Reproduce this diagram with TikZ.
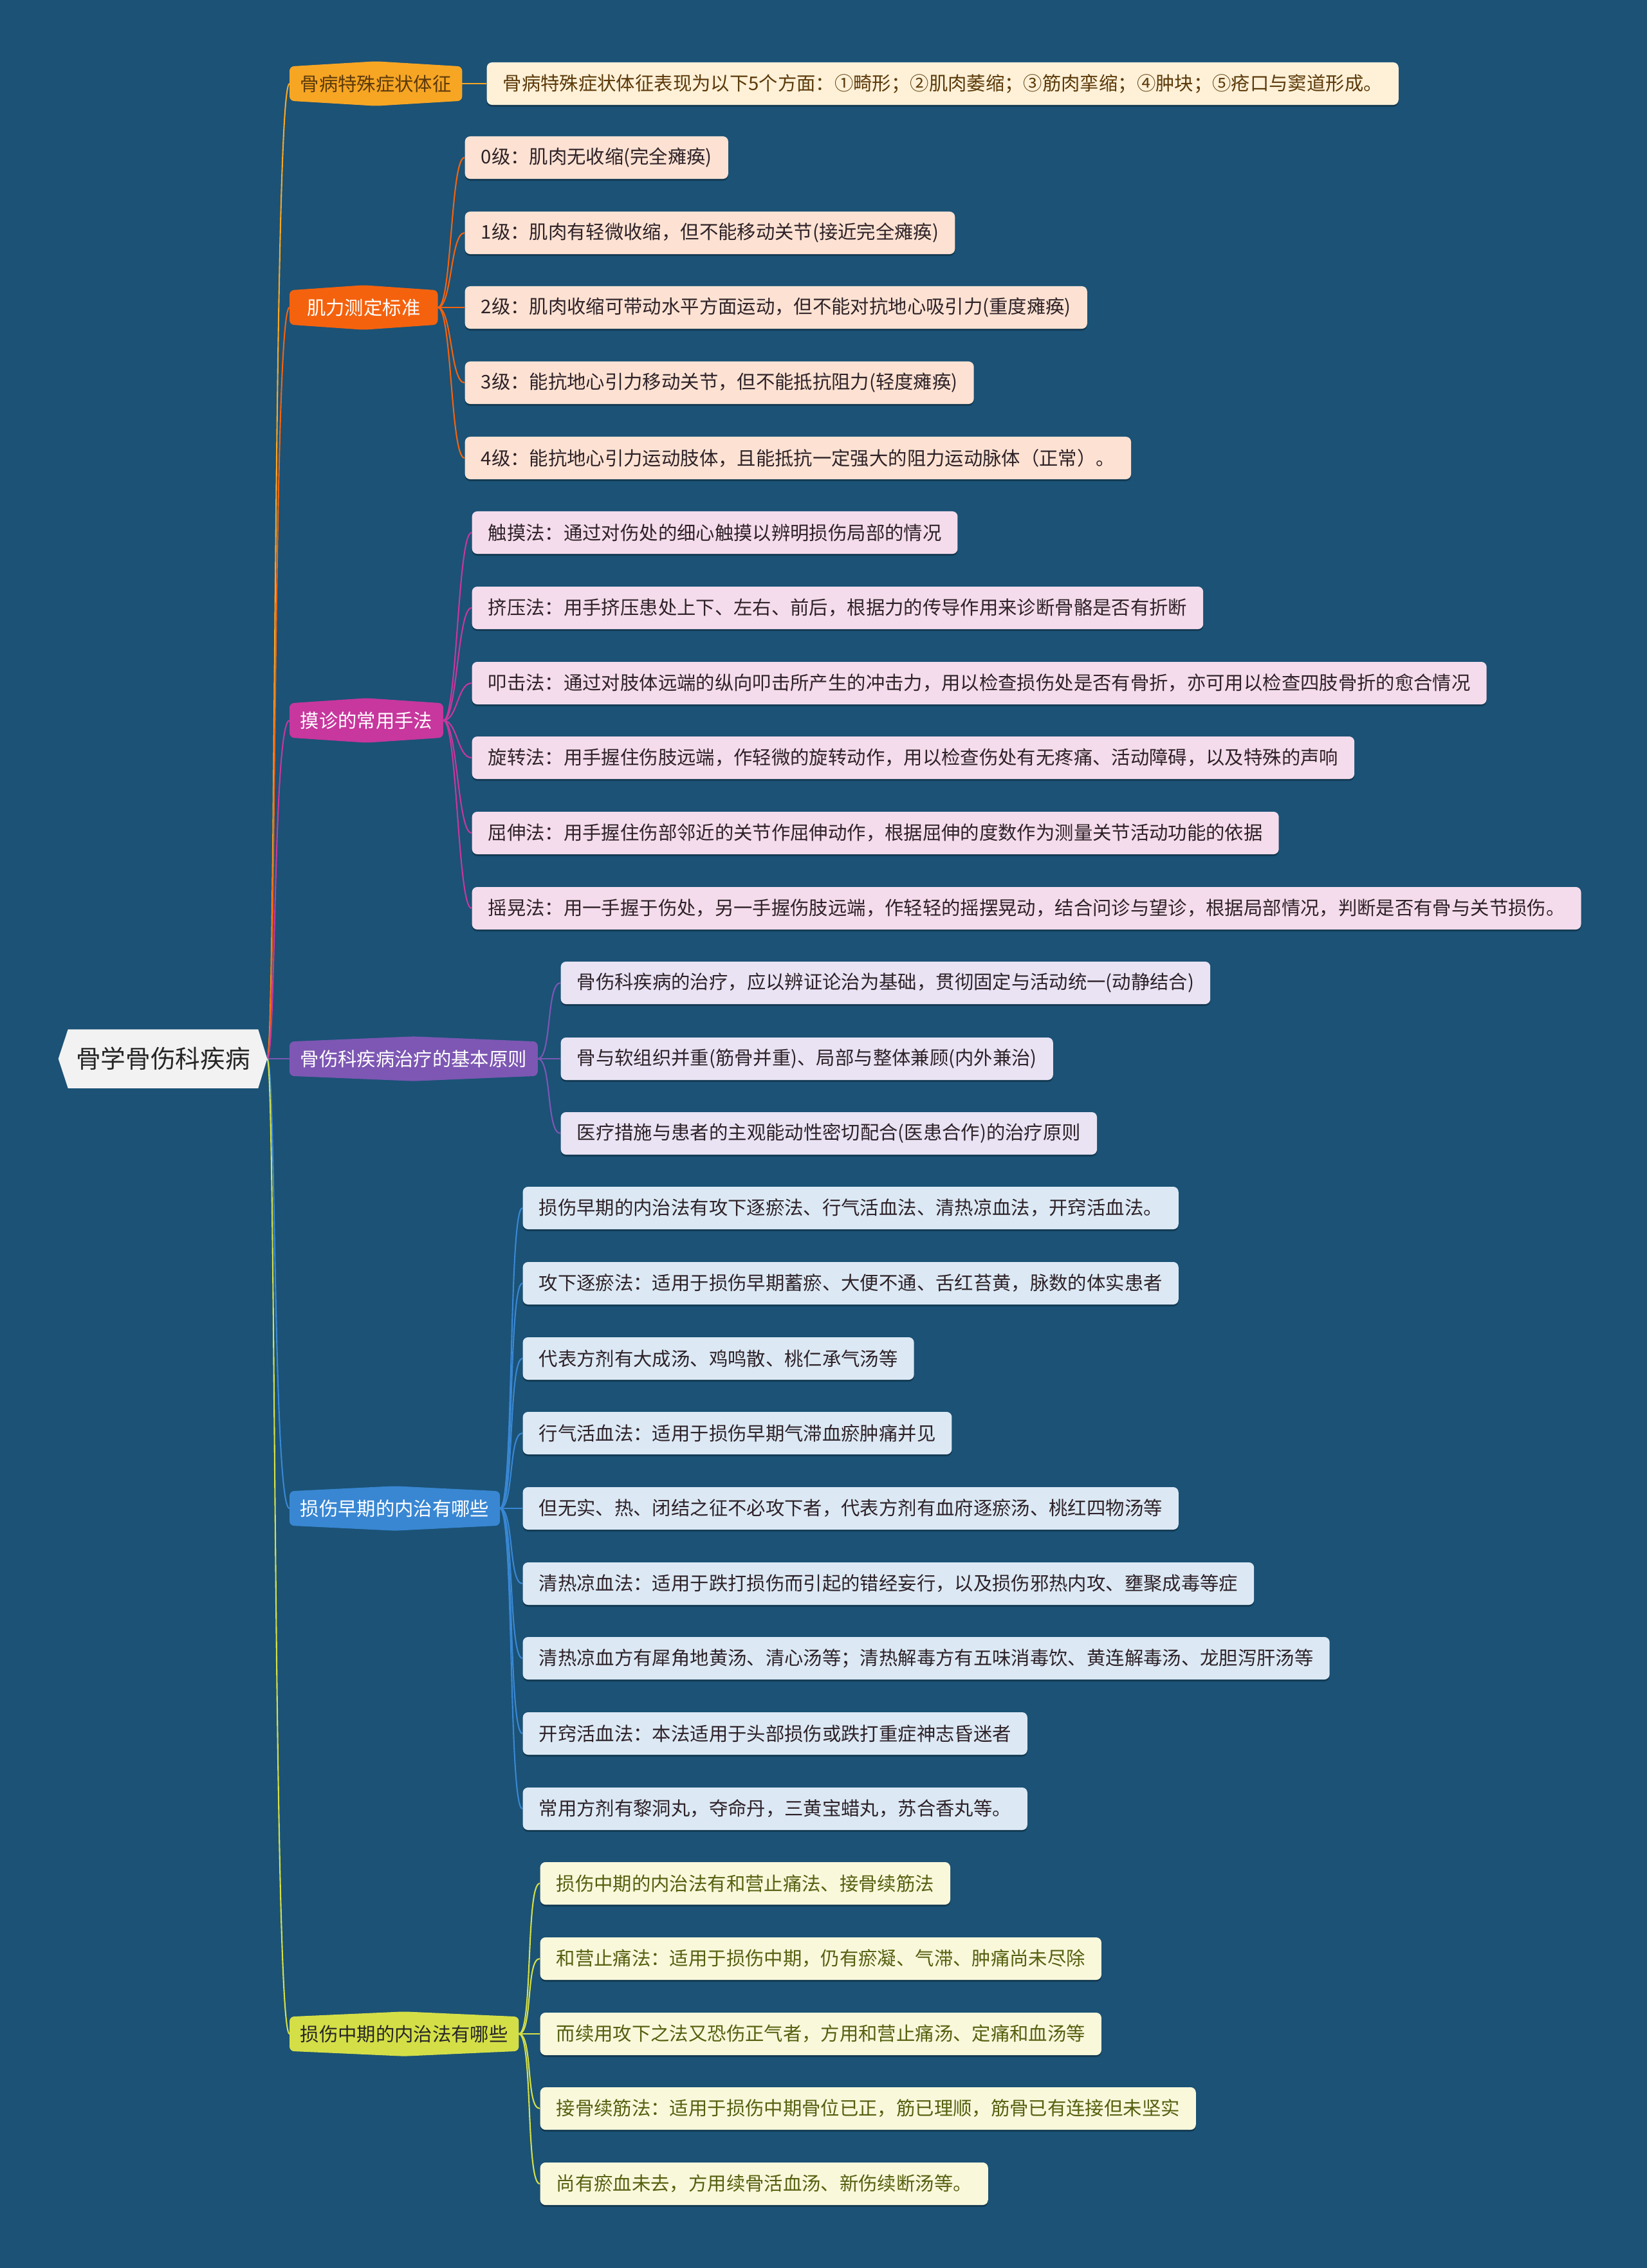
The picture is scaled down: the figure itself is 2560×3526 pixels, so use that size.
\documentclass[tikz,border=0pt]{standalone}
\usepackage{fontspec}
\setmainfont{Noto Sans CJK SC}
\usetikzlibrary{positioning,backgrounds,calc,shadows}

\definecolor{mapbg}{HTML}{1B5276}
\definecolor{rootfill}{HTML}{F2F2F2}
\definecolor{signfill}{HTML}{F7A624}
\definecolor{signleaf}{HTML}{FEF1D8}
\definecolor{forcefill}{HTML}{F4620E}
\definecolor{forceleaf}{HTML}{FDE2D3}
\definecolor{palpfill}{HTML}{C7379D}
\definecolor{palpleaf}{HTML}{F5DCEC}
\definecolor{rulefill}{HTML}{7D57B3}
\definecolor{ruleleaf}{HTML}{E9E3F4}
\definecolor{earlyfill}{HTML}{3987D3}
\definecolor{earlyleaf}{HTML}{DCE9F5}
\definecolor{midfill}{HTML}{D4DF47}
\definecolor{midleaf}{HTML}{FAF8DB}
\definecolor{browntext}{HTML}{5C3A0A}
\definecolor{olivetext}{HTML}{556010}
\definecolor{darktext}{HTML}{2E2228}

\begin{document}
\begin{tikzpicture}[x=0.01cm, y=-0.01cm,
  every node/.style={font=\fontsize{8.35}{10}\selectfont},
  leaf/.style={fill=#1, rounded corners=2.3pt, minimum height=0.66cm, inner xsep=0.25cm,
    anchor=west, text=darktext,
    drop shadow={shadow xshift=0pt, shadow yshift=-0.8pt, opacity=0.3, fill=black}},
  topic/.style={minimum height=0.52cm, inner xsep=0.16cm, anchor=west, text=white},
  link/.style={line width=0.6pt}]
  \useasboundingbox (0,0) rectangle (2560,3526);

  \node[minimum width=2.83cm, minimum height=0.9cm, text=black!85,
    font=\fontsize{11}{13}\selectfont] (root) at (253.5,1646) {骨学骨伤科疾病};
  \coordinate (hub) at ($(root.east)+(14,0)$);

  \node[topic, text=browntext] (sign) at (450,130) {骨病特殊症状体征};
  \node[topic, minimum width=2.29cm] (force) at (450,478) {肌力测定标准};
  \node[topic] (palp) at (450,1120) {摸诊的常用手法};
  \node[topic] (rule) at (450,1646) {骨伤科疾病治疗的基本原则};
  \node[topic] (early) at (450,2345) {损伤早期的内治有哪些};
  \node[topic, text=black!85] (mid) at (450,3162) {损伤中期的内治法有哪些};

  \node[leaf=signleaf, text=browntext] (sign0) at (756,130) {骨病特殊症状体征表现为以下5个方面：①畸形；②肌肉萎缩；③筋肉挛缩；④肿块；⑤疮口与窦道形成。};

  \node[leaf=forceleaf] (force0) at (722,245) {0级：肌肉无收缩(完全瘫痪)};
  \node[leaf=forceleaf] (force1) at (722,362) {1级：肌肉有轻微收缩，但不能移动关节(接近完全瘫痪)};
  \node[leaf=forceleaf] (force2) at (722,478) {2级：肌肉收缩可带动水平方面运动，但不能对抗地心吸引力(重度瘫痪)};
  \node[leaf=forceleaf] (force3) at (722,595) {3级：能抗地心引力移动关节，但不能抵抗阻力(轻度瘫痪)};
  \node[leaf=forceleaf] (force4) at (722,712) {4级：能抗地心引力运动肢体，且能抵抗一定强大的阻力运动脉体（正常）。};

  \node[leaf=palpleaf] (palp0) at (733,828) {触摸法：通过对伤处的细心触摸以辨明损伤局部的情况};
  \node[leaf=palpleaf] (palp1) at (733,945) {挤压法：用手挤压患处上下、左右、前后，根据力的传导作用来诊断骨骼是否有折断};
  \node[leaf=palpleaf] (palp2) at (733,1062) {叩击法：通过对肢体远端的纵向叩击所产生的冲击力，用以检查损伤处是否有骨折，亦可用以检查四肢骨折的愈合情况};
  \node[leaf=palpleaf] (palp3) at (733,1178) {旋转法：用手握住伤肢远端，作轻微的旋转动作，用以检查伤处有无疼痛、活动障碍，以及特殊的声响};
  \node[leaf=palpleaf] (palp4) at (733,1295) {屈伸法：用手握住伤部邻近的关节作屈伸动作，根据屈伸的度数作为测量关节活动功能的依据};
  \node[leaf=palpleaf] (palp5) at (733,1412) {摇晃法：用一手握于伤处，另一手握伤肢远端，作轻轻的摇摆晃动，结合问诊与望诊，根据局部情况，判断是否有骨与关节损伤。};

  \node[leaf=ruleleaf] (rule0) at (871,1528) {骨伤科疾病的治疗，应以辨证论治为基础，贯彻固定与活动统一(动静结合)};
  \node[leaf=ruleleaf] (rule1) at (871,1646) {骨与软组织并重(筋骨并重)、局部与整体兼顾(内外兼治)};
  \node[leaf=ruleleaf] (rule2) at (871,1762) {医疗措施与患者的主观能动性密切配合(医患合作)的治疗原则};

  \node[leaf=earlyleaf] (early0) at (812,1878) {损伤早期的内治法有攻下逐瘀法、行气活血法、清热凉血法，开窍活血法。};
  \node[leaf=earlyleaf] (early1) at (812,1995) {攻下逐瘀法：适用于损伤早期蓄瘀、大便不通、舌红苔黄，脉数的体实患者};
  \node[leaf=earlyleaf] (early2) at (812,2112) {代表方剂有大成汤、鸡鸣散、桃仁承气汤等};
  \node[leaf=earlyleaf] (early3) at (812,2228) {行气活血法：适用于损伤早期气滞血瘀肿痛并见};
  \node[leaf=earlyleaf] (early4) at (812,2345) {但无实、热、闭结之征不必攻下者，代表方剂有血府逐瘀汤、桃红四物汤等};
  \node[leaf=earlyleaf] (early5) at (812,2462) {清热凉血法：适用于跌打损伤而引起的错经妄行，以及损伤邪热内攻、壅聚成毒等症};
  \node[leaf=earlyleaf] (early6) at (812,2578) {清热凉血方有犀角地黄汤、清心汤等；清热解毒方有五味消毒饮、黄连解毒汤、龙胆泻肝汤等};
  \node[leaf=earlyleaf] (early7) at (812,2695) {开窍活血法：本法适用于头部损伤或跌打重症神志昏迷者};
  \node[leaf=earlyleaf] (early8) at (812,2812) {常用方剂有黎洞丸，夺命丹，三黄宝蜡丸，苏合香丸等。};

  \node[leaf=midleaf, text=olivetext] (mid0) at (839,2928) {损伤中期的内治法有和营止痛法、接骨续筋法};
  \node[leaf=midleaf, text=olivetext] (mid1) at (839,3045) {和营止痛法：适用于损伤中期，仍有瘀凝、气滞、肿痛尚未尽除};
  \node[leaf=midleaf, text=olivetext] (mid2) at (839,3162) {而续用攻下之法又恐伤正气者，方用和营止痛汤、定痛和血汤等};
  \node[leaf=midleaf, text=olivetext] (mid3) at (839,3278) {接骨续筋法：适用于损伤中期骨位已正，筋已理顺，筋骨已有连接但未坚实};
  \node[leaf=midleaf, text=olivetext] (mid4) at (839,3395) {尚有瘀血未去，方用续骨活血汤、新伤续断汤等。};

  \begin{scope}[on background layer]
    \fill[mapbg] (0,0) rectangle (2560,3526);
    % root to topics
    \foreach \t/\c in {sign/signfill, force/forcefill, palp/palpfill, rule/rulefill, early/earlyfill, mid/midfill}
      \draw[link, \c] (hub) .. controls +(14,0) and +(-26,0) .. (\t.west);
    % topics to leaves
    \draw[link, signfill] (sign.east) -- (sign0.west);
    \foreach \i in {0,...,4}
      \draw[link, forcefill] (force.east) .. controls +(22,0) and +(-22,0) .. (force\i.west);
    \foreach \i in {0,...,5}
      \draw[link, palpfill] (palp.east) .. controls +(22,0) and +(-22,0) .. (palp\i.west);
    \foreach \i in {0,...,2}
      \draw[link, rulefill] (rule.east) .. controls +(22,0) and +(-22,0) .. (rule\i.west);
    \foreach \i in {0,...,8}
      \draw[link, earlyfill] (early.east) .. controls +(22,0) and +(-22,0) .. (early\i.west);
    \foreach \i in {0,...,4}
      \draw[link, midfill] (mid.east) .. controls +(22,0) and +(-22,0) .. (mid\i.west);
    % topic shapes
    \fill[rootfill] (root.north west) -- (root.north east) -- (hub)
      -- (root.south east) -- (root.south west) -- ($(root.west)+(-15,0)$) -- cycle;
    \foreach \t/\c in {sign/signfill, force/forcefill, palp/palpfill, rule/rulefill, early/earlyfill, mid/midfill}
      \fill[\c, rounded corners=2pt] (\t.north west) -- ($(\t.north)+(0,-8)$) -- (\t.north east)
        -- (\t.south east) -- ($(\t.south)+(0,8)$) -- (\t.south west) -- cycle;
  \end{scope}
\end{tikzpicture}
\end{document}
